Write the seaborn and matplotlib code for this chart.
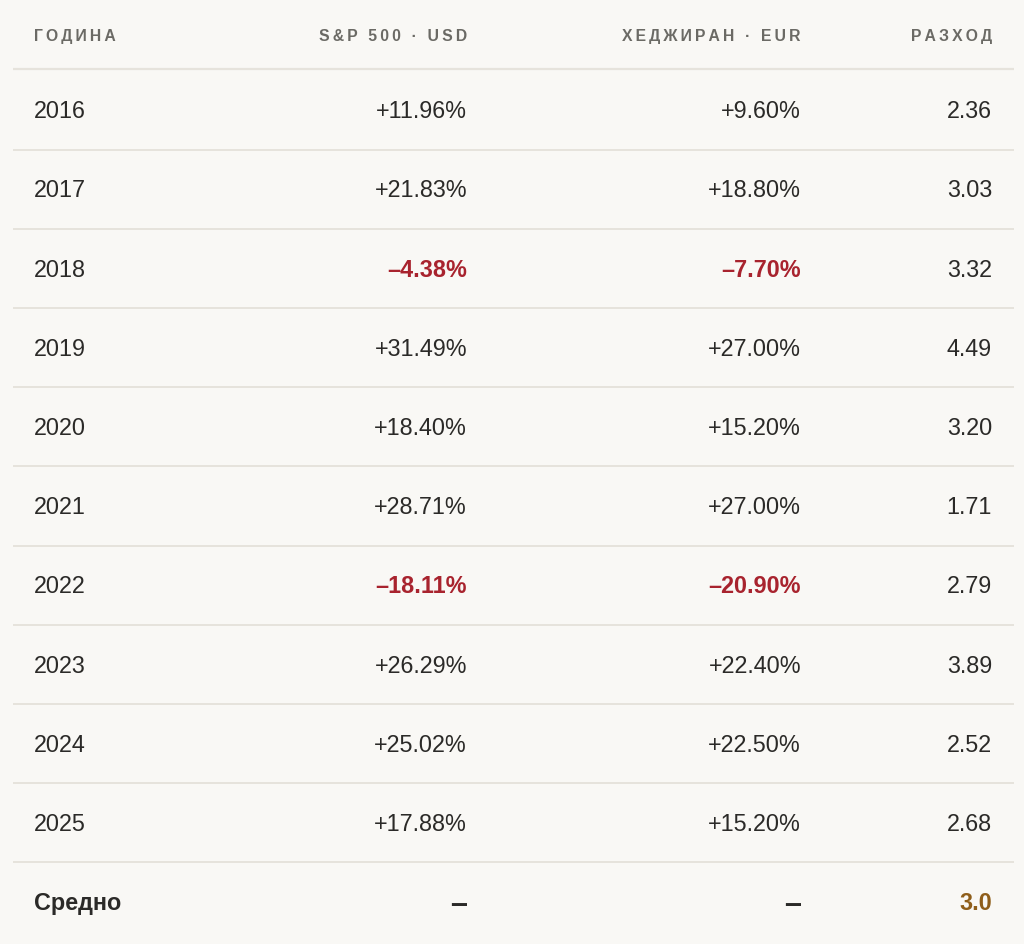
import numpy as np
import matplotlib.pyplot as plt
import seaborn as sns

# Data

years = [2016, 2017, 2018, 2019, 2020, 2021, 2022, 2023, 2024, 2025]
sp500_usd = [11.96, 21.83, -4.38, 31.49, 18.40, 28.71, -18.11, 26.29, 25.02, 17.88]
hedged_eur = [9.60, 18.80, -7.70, 27.00, 15.20, 27.00, -20.90, 22.40, 22.50, 15.20]
spread = [2.36, 3.03, 3.32, 4.49, 3.20, 1.71, 2.79, 3.89, 2.52, 2.68]

headers = ["ГОДИНА", "S&P 500 · USD", "ХЕДЖИРАН · EUR", "РАЗХОД"]
footer_label = "Средно"

# Style

sns.set_theme(style="white")
plt.rcParams["font.family"] = ["Liberation Sans", "DejaVu Sans"]

bg = "#f9f8f5"
text_color = "#2b2a28"
header_color = "#6b6a65"
neg_color = "#a8232e"
avg_color = "#8f5e1a"
rule_color = "#e6e3dc"

col_x = [34, 467, 801, 992]
col_ha = ["left", "right", "right", "right"]
fs = 16.8
dy = 0.02


def fmt_pct(v):
    sign = "+" if v >= 0 else "\u2013"
    return f"{sign}{abs(v):.2f}%"


def spaced(s):
    return "\u2009".join(s)


fig = plt.figure(figsize=(10.24, 9.44), dpi=100)
fig.patch.set_facecolor(bg)
ax = fig.add_axes([0, 0, 1, 1])
ax.set_facecolor(bg)
ax.set_xlim(0, 1024)
ax.set_ylim(10.53, -1.39)
ax.axis("off")

# Header
for x, ha, h in zip(col_x, col_ha, headers):
    ax.text(x, -0.95 + dy, spaced(h), ha=ha, va="center", fontsize=11.3,
            fontweight="bold", color=header_color)

ax.hlines(-0.52, 13, 1014, color=rule_color, lw=1.6)

# Body rows
for i, (yr, a, b, s) in enumerate(zip(years, sp500_usd, hedged_eur, spread)):
    ax.text(col_x[0], i + dy, str(yr), ha="left", va="center", fontsize=fs, color=text_color)
    for x, v in [(col_x[1], a), (col_x[2], b)]:
        neg = v < 0
        ax.text(x, i + dy, fmt_pct(v), ha="right", va="center", fontsize=fs,
                color=neg_color if neg else text_color,
                fontweight="bold" if neg else "normal")
    ax.text(col_x[3], i + dy, f"{s:.2f}", ha="right", va="center", fontsize=fs, color=text_color)
    ax.hlines(i + 0.5, 13, 1014, color=rule_color, lw=1.4)

# Footer
n = len(years)
avg_spread = np.mean(spread)
ax.text(col_x[0], n + dy, footer_label, ha="left", va="center", fontsize=fs,
        fontweight="bold", color=text_color)
for x in (col_x[1], col_x[2]):
    ax.text(x, n + 0.04, "\u2013", ha="right", va="center", fontsize=22,
            fontweight="bold", color=text_color)
ax.text(col_x[3], n + dy, f"{avg_spread:.1f}", ha="right", va="center", fontsize=fs,
        fontweight="bold", color=avg_color)

plt.savefig("out.png", dpi=100, facecolor=bg)
